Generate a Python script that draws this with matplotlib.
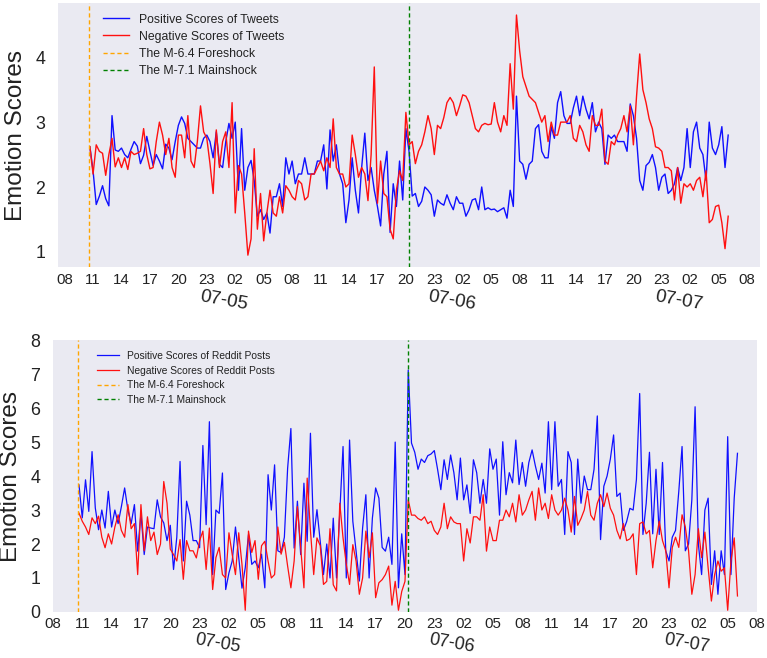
import matplotlib
matplotlib.use("Agg")
import matplotlib.pyplot as plt
import matplotlib.dates as mdates
import pandas as pd

plt.rcParams['font.family'] = ['Liberation Sans', 'DejaVu Sans']

# ---------------- data ----------------
start_time = "2019-07-04 10:40"
step = "20min"
foreshock_time = pd.Timestamp("2019-07-04 10:33")
mainshock_time = pd.Timestamp("2019-07-05 20:19")
date_labels = ["07-05", "07-06", "07-07"]
reddit_yticks = [0, 1, 2, 3, 4, 5, 6, 7, 8]
tweet_yticks = [1, 2, 3, 4]

tweet_pos = [
    2.62, 2.25, 1.73, 1.86, 2.02, 1.82, 1.71, 3.10, 2.57, 2.55,
    2.60, 2.50, 2.45, 2.58, 2.70, 2.63, 2.36, 2.49, 2.78, 2.55,
    2.33, 2.50, 2.40, 2.28, 2.66, 2.60, 2.42, 2.70, 2.95, 3.08,
    2.98, 2.75, 2.70, 2.65, 2.60, 2.60, 2.75, 2.80, 2.70, 2.45,
    2.85, 2.35, 2.30, 2.70, 2.98, 2.75, 3.00, 1.95, 2.90, 1.95,
    2.30, 2.41, 2.10, 1.55, 1.65, 1.50, 1.60, 1.29, 1.85, 1.85,
    2.05, 1.70, 2.45, 2.20, 2.40, 2.05, 2.20, 2.20, 2.45, 2.20,
    2.20, 2.20, 2.40, 2.40, 2.65, 1.97, 2.88, 2.40, 2.65, 2.20,
    2.05, 1.45, 1.80, 2.45, 1.95, 1.60, 2.30, 2.83, 2.10, 2.30,
    1.95, 1.70, 1.40, 2.20, 2.55, 1.30, 2.05, 1.70, 2.40, 1.80,
    2.90, 2.55, 1.86, 1.90, 1.70, 1.78, 2.00, 1.95, 1.88, 1.55,
    1.80, 1.75, 1.72, 1.88, 1.75, 1.65, 1.85, 1.75, 1.75, 1.55,
    1.65, 1.80, 1.82, 1.65, 2.00, 1.65, 1.68, 1.65, 1.66, 1.62,
    1.65, 1.68, 1.52, 1.95, 1.70, 3.40, 2.40, 2.35, 2.12, 2.35,
    2.40, 2.90, 2.96, 2.55, 2.45, 2.45, 2.93, 2.75, 3.30, 3.47,
    3.10, 2.98, 2.98, 3.22, 3.40, 3.10, 3.40, 3.20, 3.05, 3.30,
    2.85, 3.00, 2.90, 2.35, 2.80, 2.75, 2.80, 2.70, 2.70, 2.70,
    2.55, 3.28, 3.10, 2.75, 2.10, 1.95, 2.33, 2.38, 2.50, 2.30,
    1.95, 2.15, 2.20, 1.90, 1.95, 2.05, 2.30, 2.10, 2.30, 2.90,
    2.30, 2.85, 3.00, 2.60, 2.50, 2.10, 3.00, 2.60, 2.50, 2.65,
    2.93, 2.30, 2.80,
]

tweet_neg = [
    2.62, 2.20, 2.65, 2.55, 2.52, 2.18, 2.50, 2.75, 2.31, 2.45,
    2.30, 2.45, 2.27, 2.55, 2.50, 2.52, 2.55, 2.90, 2.50, 2.28,
    2.30, 2.70, 3.00, 2.80, 2.50, 2.75, 2.30, 2.15, 2.80, 2.80,
    2.45, 3.10, 2.40, 2.30, 2.70, 3.25, 2.85, 2.75, 2.36, 1.90,
    2.88, 2.30, 2.70, 2.85, 2.30, 3.30, 1.60, 2.33, 2.20, 1.60,
    0.95, 1.20, 2.59, 1.35, 1.90, 1.17, 1.60, 1.95, 1.60, 1.55,
    1.85, 1.60, 2.02, 1.95, 1.85, 1.80, 2.10, 2.05, 1.80, 1.85,
    2.20, 2.20, 2.30, 2.40, 2.25, 2.45, 2.30, 3.05, 2.30, 2.20,
    2.20, 2.00, 2.05, 2.80, 2.50, 2.15, 2.30, 2.20, 1.79, 2.50,
    3.85, 1.75, 2.40, 1.90, 1.85, 1.35, 1.20, 1.95, 2.25, 2.10,
    3.15, 2.65, 2.70, 2.36, 2.55, 2.65, 2.85, 3.10, 2.90, 2.50,
    2.95, 2.90, 3.07, 3.30, 3.38, 3.30, 3.10, 3.25, 3.42, 3.40,
    3.30, 3.10, 2.90, 2.85, 2.95, 2.98, 2.96, 2.97, 3.30, 3.00,
    2.85, 3.10, 2.95, 3.90, 3.20, 4.65, 4.10, 3.70, 3.55, 3.40,
    3.35, 3.30, 3.15, 3.00, 3.10, 2.70, 3.00, 2.80, 2.80, 3.00,
    3.00, 3.00, 3.10, 2.75, 2.70, 2.95, 2.85, 2.65, 2.55, 3.10,
    2.95, 2.95, 3.20, 2.40, 2.35, 2.70, 2.65, 2.80, 2.90, 3.10,
    2.85, 3.25, 2.65, 3.40, 4.05, 3.50, 3.30, 3.05, 2.90, 2.62,
    2.60, 2.55, 2.30, 2.30, 2.25, 1.80, 2.30, 1.75, 2.05, 2.00,
    2.05, 1.95, 2.10, 2.15, 1.85, 2.25, 1.45, 1.50, 1.70, 1.72,
    1.45, 1.05, 1.55,
]

reddit_pos = [
    3.74, 2.77, 3.89, 2.96, 4.72, 3.06, 2.42, 3.00, 2.47, 3.55,
    2.50, 3.00, 2.60, 3.10, 3.65, 3.00, 2.60, 3.16, 1.79, 2.90,
    1.69, 2.50, 2.47, 2.45, 3.30, 2.80, 2.62, 2.10, 2.55, 1.25,
    2.20, 4.43, 1.50, 3.26, 2.85, 2.10, 2.10, 1.89, 4.90, 2.57,
    5.60, 1.10, 3.00, 2.90, 4.09, 0.66, 1.15, 1.50, 2.50, 1.60,
    0.70, 1.30, 2.28, 1.40, 1.50, 1.30, 1.70, 0.71, 4.04, 3.00,
    4.33, 1.80, 1.75, 2.20, 4.23, 5.40, 1.88, 3.26, 1.69, 3.79,
    2.08, 5.26, 2.20, 3.01, 2.08, 1.10, 2.00, 1.00, 2.76, 1.00,
    2.91, 4.87, 1.00, 5.06, 2.67, 1.79, 0.91, 2.47, 3.45, 1.00,
    2.76, 3.65, 3.35, 1.90, 1.79, 2.20, 1.40, 5.00, 0.71, 2.30,
    1.10, 7.12, 4.97, 4.70, 4.20, 4.50, 4.40, 4.60, 4.65, 4.75,
    4.20, 3.60, 4.48, 3.90, 4.62, 4.10, 3.30, 4.53, 3.30, 3.74,
    2.90, 4.48, 4.10, 3.20, 3.90, 3.20, 4.80, 4.20, 4.50, 2.85,
    5.01, 3.45, 4.10, 3.80, 5.06, 3.75, 4.40, 3.70, 4.40, 4.77,
    4.30, 3.90, 4.38, 3.50, 5.60, 3.60, 5.60, 3.70, 3.90, 2.28,
    4.72, 4.40, 2.28, 4.50, 3.20, 4.00, 3.60, 3.60, 4.20, 5.77,
    2.13, 3.70, 4.00, 4.50, 5.21, 3.40, 3.50, 2.40, 2.66, 3.05,
    3.00, 3.90, 6.43, 2.28, 3.20, 4.70, 2.30, 4.20, 2.28, 4.40,
    1.80, 1.50, 2.20, 2.40, 3.55, 4.87, 1.80, 2.00, 3.30, 6.04,
    2.00, 1.10, 3.00, 3.35, 0.81, 1.80, 0.52, 1.80, 1.10, 5.16,
    1.10, 3.35, 4.67,
]

reddit_neg = [
    2.91, 2.67, 2.50, 2.28, 2.77, 2.60, 2.82, 2.20, 1.89, 2.30,
    2.00, 2.50, 2.86, 2.40, 2.20, 3.16, 2.45, 2.60, 1.10, 3.16,
    1.80, 2.80, 2.10, 2.35, 1.69, 2.00, 3.84, 3.20, 1.85, 1.69,
    1.50, 2.13, 0.96, 2.10, 1.80, 1.80, 1.59, 2.10, 2.38, 1.25,
    2.47, 0.66, 1.60, 1.90, 1.10, 1.00, 2.33, 1.69, 1.10, 2.33,
    1.40, 0.05, 2.38, 1.75, 2.10, 0.96, 1.95, 2.08, 1.50, 1.00,
    1.10, 2.50, 1.70, 2.05, 1.35, 0.71, 1.50, 3.10, 1.89, 0.71,
    3.94, 2.40, 1.10, 2.18, 1.95, 0.81, 0.90, 2.45, 0.80, 0.62,
    3.20, 2.18, 1.40, 0.81, 1.98, 1.50, 0.52, 1.00, 2.38, 1.60,
    2.33, 0.42, 0.86, 0.95, 1.10, 1.35, 0.20, 0.90, 0.05, 0.60,
    0.90, 3.30, 2.85, 2.85, 2.75, 2.70, 2.80, 2.60, 2.67, 2.40,
    2.28, 2.50, 3.20, 2.45, 2.80, 2.65, 2.60, 2.60, 1.50, 2.45,
    2.03, 2.80, 2.80, 2.70, 3.45, 1.79, 2.50, 2.10, 2.10, 2.70,
    2.70, 3.00, 2.80, 3.20, 2.65, 3.45, 2.85, 3.00, 3.30, 3.55,
    2.70, 3.65, 3.00, 3.20, 2.75, 3.45, 3.00, 2.85, 3.00, 3.35,
    3.00, 2.35, 3.40, 2.55, 2.75, 3.00, 3.55, 2.85, 2.70, 3.20,
    3.45, 3.10, 3.50, 3.05, 2.85, 2.40, 2.15, 2.60, 2.10, 2.15,
    2.30, 1.10, 2.60, 2.65, 2.30, 2.40, 1.30, 2.10, 2.67, 2.10,
    1.80, 0.71, 1.90, 2.20, 1.90, 2.86, 2.50, 1.80, 0.52, 1.10,
    2.45, 1.60, 2.35, 1.30, 0.32, 1.10, 1.50, 1.20, 1.30, 0.05,
    1.50, 2.18, 0.47,
]

times = pd.date_range(start_time, periods=len(tweet_pos), freq=step)

# ---------------- figure ----------------
fig = plt.figure(figsize=(7.67, 6.58), dpi=100)
ax1 = fig.add_axes([0.0756, 0.594, 0.9154, 0.4014])
ax2 = fig.add_axes([0.069, 0.070, 0.918, 0.413])

BG = "#EAEAF2"
TXT = "#222222"


def style(ax, date_offset, date_size):
    ax.set_facecolor(BG)
    for s in ax.spines.values():
        s.set_visible(False)
    ax.grid(False)
    ax.xaxis.set_major_locator(mdates.HourLocator(byhour=range(2, 24, 3)))
    ax.xaxis.set_major_formatter(mdates.DateFormatter("%H"))
    ax.tick_params(axis="x", length=0, pad=4, labelsize=10.8, colors=TXT)
    ax.tick_params(axis="y", length=0, pad=9, labelsize=12.8, colors=TXT)
    ax.set_ylabel("Emotion Scores", fontsize=17.5, color=TXT, labelpad=6)
    for d in date_labels:
        t = pd.Timestamp("2019-" + d) + pd.Timedelta(minutes=50)
        ax.annotate(d, xy=(t, 0), xycoords=("data", "axes fraction"),
                    xytext=(0, date_offset), textcoords="offset points",
                    ha="center", va="center", rotation=-10,
                    fontsize=date_size, color=TXT)


# top: tweets
ax1.plot(times, tweet_pos, color="#1010FF", lw=1.0, label="Positive Scores of Tweets")
ax1.plot(times, tweet_neg, color="#FF1010", lw=1.0, label="Negative Scores of Tweets")
ax1.axvline(foreshock_time, color="orange", ls=(0, (3, 2)), lw=1.0, label="The M-6.4 Foreshock")
ax1.axvline(mainshock_time, color="green", ls=(0, (3, 2)), lw=1.0, label="The M-7.1 Mainshock")
style(ax1, -24, 13.5)
ax1.set_yticks(tweet_yticks)
ax1.legend(loc="upper left", bbox_to_anchor=(0.064, 0.96), frameon=False,
           fontsize=8.8, borderpad=0, borderaxespad=0, handlelength=2.1,
           handletextpad=0.85, labelspacing=0.42, labelcolor=TXT)

# bottom: reddit
ax2.plot(times, reddit_pos, color="#1010FF", lw=0.9, label="Positive Scores of Reddit Posts")
ax2.plot(times, reddit_neg, color="#FF1010", lw=0.9, label="Negative Scores of Reddit Posts")
ax2.axvline(foreshock_time, color="orange", ls=(0, (3, 2)), lw=1.0, label="The M-6.4 Foreshock")
ax2.axvline(mainshock_time, color="green", ls=(0, (3, 2)), lw=1.0, label="The M-7.1 Mainshock")
style(ax2, -22.5, 13)
ax2.set_ylim(0, 8)
ax2.set_yticks(reddit_yticks)
ax2.set_xlim(pd.Timestamp("2019-07-04 08:00"), pd.Timestamp("2019-07-07 08:00"))
ax2.legend(loc="upper left", bbox_to_anchor=(0.0625, 0.96), frameon=False,
           fontsize=7.4, borderpad=0, borderaxespad=0, handlelength=2.1,
           handletextpad=0.85, labelspacing=0.45, labelcolor=TXT)

fig.savefig("out.png", dpi=100)
